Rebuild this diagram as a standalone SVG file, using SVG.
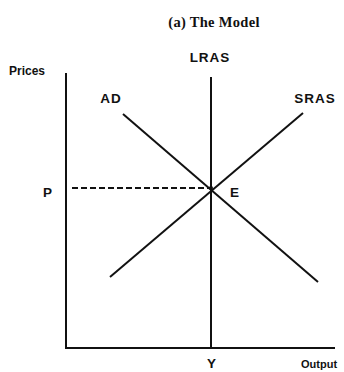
<svg xmlns="http://www.w3.org/2000/svg" width="344" height="372" viewBox="0 0 344 372">
<style>
text{font-family:"Liberation Sans",Arial,sans-serif;font-weight:bold;font-size:13.5px;fill:#111;letter-spacing:1px}
.ttl{font-family:"Liberation Serif","Times New Roman",serif;font-size:14.5px;letter-spacing:0.3px}
.ax-lbl{font-size:12px;letter-spacing:0}
.ln{stroke:#111;stroke-width:2;fill:none}
.ax{stroke:#111;stroke-width:2;fill:none}
.d{stroke:#111;stroke-width:1.8;stroke-dasharray:6,3;fill:none}
</style>
<rect width="344" height="372" fill="#fff"/>
<text class="ttl" x="214" y="27" text-anchor="middle">(a) The Model</text>
<g id="axes">
<path class="ax" d="M66,73 V348 H335"/>
<text class="ax-lbl" x="9" y="75">Prices</text>
<text class="ax-lbl" x="301" y="368" style="font-size:11px">Output</text>
</g>
<g id="connectors">
<path class="ln" d="M211,77 V348"/>
<path class="ln" d="M123,114 L318,282"/>
<path class="ln" d="M110,277 L303,113"/>
<path class="d" d="M72,188 H211"/>
</g>
<g id="LRAS"><text x="210" y="62" text-anchor="middle">LRAS</text></g>
<g id="AD"><text x="111" y="103" text-anchor="middle">AD</text></g>
<g id="SRAS"><text x="315" y="103" text-anchor="middle">SRAS</text></g>
<g id="E"><circle cx="211" cy="188" r="2" fill="#111"/><text x="230" y="197">E</text></g>
<g id="P"><text x="43" y="197">P</text></g>
<g id="Y"><text x="212" y="368" text-anchor="middle">Y</text></g>
</svg>
